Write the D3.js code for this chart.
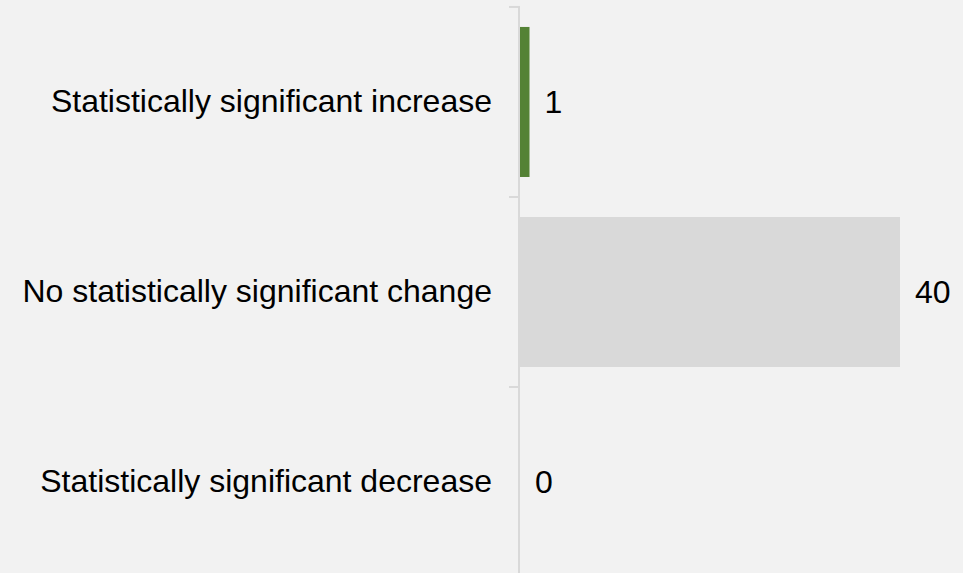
<!DOCTYPE html>
<html lang="en">
<head>
<meta charset="utf-8">
<title>Significance chart</title>
<script src="https://cdn.jsdelivr.net/npm/d3@7"></script>
<style>
  body { margin: 0; background: #f2f2f2; }
  svg { display: block; }
  text { font-family: "Liberation Sans", Arial, sans-serif; fill: #000; }
</style>
</head>
<body>
<script>
var categories = ["Statistically significant increase", "No statistically significant change", "Statistically significant decrease"];
var counts = [1, 40, 0];
var barColors = ["#548235", "#d9d9d9", "#d9d9d9"];

var width = 963, height = 573;

var svg = d3.select("body").append("svg")
    .attr("width", width)
    .attr("height", height);

svg.append("rect").attr("width", width).attr("height", height).attr("fill", "#f2f2f2");

var y = d3.scaleBand()
    .domain(categories)
    .range([7, 577])
    .paddingInner(0.2105)
    .paddingOuter(0.105);

var x = d3.scaleLinear()
    .domain([0, 40])
    .range([520, 900]);

// bars
svg.selectAll(".bar")
    .data(categories)
    .enter().append("rect")
    .attr("class", "bar")
    .attr("x", x(0))
    .attr("y", function(d) { return y(d); })
    .attr("width", function(d, i) { return x(counts[i]) - x(0); })
    .attr("height", y.bandwidth())
    .attr("fill", function(d, i) { return barColors[i]; });

// value labels
svg.selectAll(".val")
    .data(categories)
    .enter().append("text")
    .attr("class", "val")
    .attr("x", function(d, i) { return x(counts[i]) + 15; })
    .attr("y", function(d) { return y(d) + y.bandwidth() / 2; })
    .attr("dy", "0.35em")
    .style("font-size", "32px")
    .text(function(d, i) { return counts[i]; });

// category axis (labels only)
var yAxis = d3.axisLeft(y).tickSize(0).tickPadding(27);
var ag = svg.append("g")
    .attr("transform", "translate(519,0)")
    .call(yAxis);
ag.select(".domain").remove();
ag.selectAll("text")
    .style("font-size", "32px")
    .style("font-family", "'Liberation Sans', Arial, sans-serif")
    .attr("fill", "#000");

// axis line and boundary ticks
var half = y.paddingInner() * y.step() / 2;
var bounds = categories.map(function(d) { return y(d) - half; });
bounds.push(y(categories[categories.length - 1]) + y.bandwidth() + half);

svg.append("line")
    .attr("x1", 519).attr("x2", 519)
    .attr("y1", bounds[0]).attr("y2", height)
    .attr("stroke", "#d9d9d9").attr("stroke-width", 2);

svg.selectAll(".tick-b")
    .data(bounds)
    .enter().append("line")
    .attr("class", "tick-b")
    .attr("x1", 509).attr("x2", 520)
    .attr("y1", function(d) { return d; })
    .attr("y2", function(d) { return d; })
    .attr("stroke", "#d9d9d9").attr("stroke-width", 2);
</script>
</body>
</html>
